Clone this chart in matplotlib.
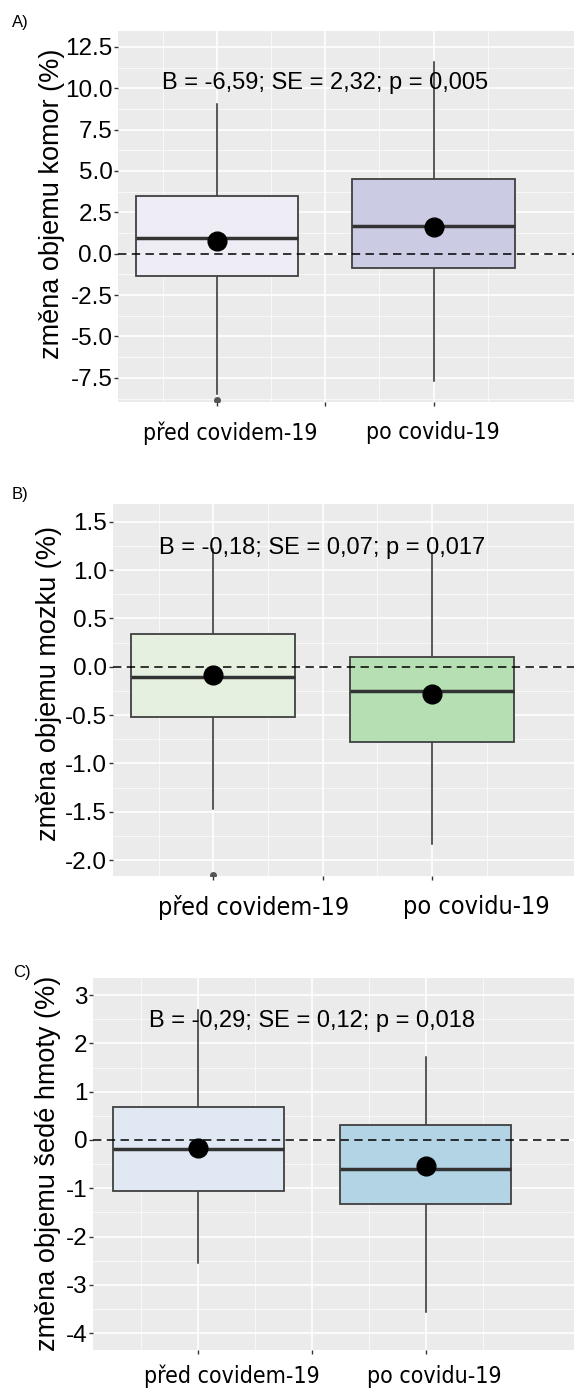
import numpy as np
import matplotlib
matplotlib.use("Agg")
import matplotlib.pyplot as plt

plt.rcParams["axes.unicode_minus"] = False

groups = ["před covidem-19", "po covidu-19"]

# A) ventricles
a_q1 = [-1.33, -0.89]
a_med = [0.94, 1.69]
a_q3 = [3.47, 4.52]
a_lo = [-8.48, -7.71]
a_hi = [9.07, 11.57]
a_mean = [0.76, 1.64]
a_out = [[-8.84], []]
a_text = "B = -6,59; SE = 2,32; p = 0,005"

# B) whole brain
b_q1 = [-0.517, -0.78]
b_med = [-0.11, -0.248]
b_q3 = [0.335, 0.103]
b_lo = [-1.47, -1.83]
b_hi = [1.22, 1.18]
b_mean = [-0.086, -0.282]
b_out = [[-2.15], []]
b_text = "B = -0,18; SE = 0,07; p = 0,017"

# C) grey matter
c_q1 = [-1.05, -1.325]
c_med = [-0.18, -0.594]
c_q3 = [0.683, 0.30]
c_lo = [-2.55, -3.555]
c_hi = [2.7, 1.71]
c_mean = [-0.17, -0.54]
c_out = [[], []]
c_text = "B = -0,29; SE = 0,12; p = 0,018"

W, H = 574, 1389
fig = plt.figure(figsize=(W / 100, H / 100), dpi=100)
fig.patch.set_facecolor("white")

# group labels were placed by hand in the original figure (pixel centres)
panels = [
    dict(tag="A)", q1=a_q1, med=a_med, q3=a_q3, lo=a_lo, hi=a_hi, mean=a_mean, out=a_out,
         text=a_text, text_y=10.3, ylabel="změna objemu komor (%)",
         colors=["#EEEDF5", "#CBCCE3"], ylim=(-8.96, 13.46),
         ticks=np.arange(-7.5, 12.6, 2.5), minor=np.arange(-8.75, 13.5, 2.5), fmt="{:.1f}",
         box=(118, 31, 402), lab=(51.7, 204), tagpos=(12, 22),
         xlab=[(230.5, 433), (433.3, 433)], xsize=16.5),
    dict(tag="B)", q1=b_q1, med=b_med, q3=b_q3, lo=b_lo, hi=b_hi, mean=b_mean, out=b_out,
         text=b_text, text_y=1.23, ylabel="změna objemu mozku (%)",
         colors=["#E5F0E0", "#B7DFB4"], ylim=(-2.162, 1.683),
         ticks=np.arange(-2.0, 1.6, 0.5), minor=np.arange(-1.75, 1.7, 0.5), fmt="{:.1f}",
         box=(112.7, 504, 875.7), lab=(49, 683), tagpos=(12, 495),
         xlab=[(254, 907), (476.7, 907)], xsize=18.1),
    dict(tag="C)", q1=c_q1, med=c_med, q3=c_q3, lo=c_lo, hi=c_hi, mean=c_mean, out=c_out,
         text=c_text, text_y=2.46, ylabel="změna objemu šedé hmoty (%)",
         colors=["#E0E9F3", "#B3D4E5"], ylim=(-4.35, 3.36),
         ticks=np.arange(-4, 3.1, 1), minor=np.arange(-3.5, 3.4, 1), fmt="{:.0f}",
         box=(93.3, 977.7, 1350), lab=(48, 1163), tagpos=(13, 972),
         xlab=[(232, 1376), (434.7, 1376)], xsize=16.6),
]

for p in panels:
    left, top, bottom = p["box"]
    ax = fig.add_axes([left / W, 1 - bottom / H, 1 - left / W, (bottom - top) / H])
    ax.set_facecolor("#EBEBEB")
    for s in ax.spines.values():
        s.set_visible(False)

    stats = []
    for i in range(2):
        stats.append(dict(q1=p["q1"][i], med=p["med"][i], q3=p["q3"][i],
                          whislo=p["lo"][i], whishi=p["hi"][i],
                          mean=p["mean"][i], fliers=p["out"][i]))
    bp = ax.bxp(stats, positions=[1, 2], widths=0.75, patch_artist=True,
                showcaps=False, showmeans=True,
                boxprops=dict(edgecolor="#404040", linewidth=1.3),
                medianprops=dict(color="#333333", linewidth=2.5),
                whiskerprops=dict(color="#2b2b2b", linewidth=1.1),
                flierprops=dict(marker="o", markersize=4, markerfacecolor="#555555",
                                markeredgecolor="#555555"),
                meanprops=dict(marker="o", markersize=13.5, markerfacecolor="black",
                               markeredgecolor="black"))
    for patch, c in zip(bp["boxes"], p["colors"]):
        patch.set_facecolor(c)
        patch.set_zorder(2)
    for ln in bp["whiskers"]:
        ln.set_zorder(1.9)
    for ln in bp["medians"]:
        ln.set_zorder(3)
    for ln in bp["means"]:
        ln.set_zorder(5)

    ax.axhline(0, color="black", linewidth=1.1, linestyle=(0, (5.5, 3.5)), zorder=4)

    ax.set_xlim(0.54, 2.65)
    ax.set_ylim(*p["ylim"])
    ax.set_xticks([1, 1.5, 2])
    ax.set_xticklabels(["", "", ""])
    ax.set_xticks([0.75, 1.25, 1.75, 2.25], minor=True)
    ax.set_yticks(p["ticks"])
    ax.set_yticklabels([p["fmt"].format(t) for t in p["ticks"]], fontsize=17.5,
                       family="Liberation Sans")
    ax.set_yticks(p["minor"], minor=True)
    ax.grid(which="major", color="white", linewidth=1.2, zorder=0)
    ax.grid(which="minor", color="white", linewidth=0.5, zorder=0)
    ax.set_axisbelow(True)
    ax.tick_params(axis="both", which="major", color="#333333", length=3, width=1)
    ax.tick_params(axis="y", pad=1)
    ax.tick_params(which="minor", length=0)

    for name, (gx, gy) in zip(groups, p["xlab"]):
        fig.text(gx / W, 1 - gy / H, name, ha="center", va="center", fontsize=p["xsize"],
                 family="DejaVu Sans", fontstretch="condensed")

    ax.text(1.5, p["text_y"], p["text"], ha="center", va="center", fontsize=17,
            family="Liberation Sans", zorder=6)

    lx, ly = p["lab"]
    fig.text(lx / W, 1 - ly / H, p["ylabel"], rotation=90, ha="center", va="center",
             fontsize=19.5, family="Liberation Sans")
    tx, ty = p["tagpos"]
    fig.text(tx / W, 1 - ty / H, p["tag"], ha="left", va="center", fontsize=12,
             family="Liberation Sans")

fig.savefig("out.png", dpi=100)
